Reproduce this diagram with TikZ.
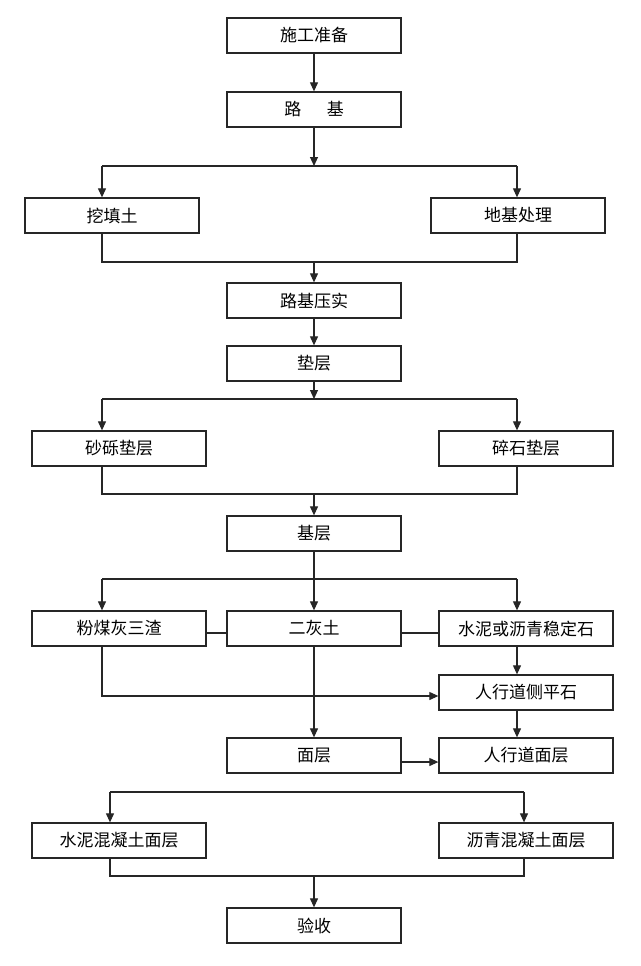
\documentclass[tikz,border=0pt]{standalone}
\usepackage{fontspec}
\newfontfamily\cjk{Noto Sans CJK SC}
\usetikzlibrary{arrows.meta}
\begin{document}
\begin{tikzpicture}[x=1pt,y=-1pt,
  box/.style={draw=black!85,line width=1.3pt,minimum width=174pt,minimum height=35pt,inner sep=0pt,font=\cjk\fontsize{17}{19}\selectfont},
  conn/.style={draw=black!85,line width=1.1pt},
  arr/.style={conn,-{Triangle[length=9pt,width=8pt]}}]
\useasboundingbox[fill=white] (0,0) rectangle (640,966);
% nodes
\node[box] (prep) at (314,35.5) {施工准备};
\node[box] (luji) at (314,109.5) {路\hspace{1.5em}基};
\node[box] (wtt) at (112,215.5) {挖填土};
\node[box] (djcl) at (518,215.5) {地基处理};
\node[box] (ljys) at (314,300.5) {路基压实};
\node[box] (dc) at (314,363.5) {垫层};
\node[box] (slfc) at (119,448.5) {砂砾垫层};
\node[box] (sszc) at (526,448.5) {碎石垫层};
\node[box] (jc) at (314,533.5) {基层};
\node[box] (fmh) at (119,628.5) {粉煤灰三渣};
\node[box] (eht) at (314,628.5) {二灰土};
\node[box] (snlq) at (526,628.5) {水泥或沥青稳定石};
\node[box] (rxd) at (526,692.5) {人行道侧平石};
\node[box] (mc) at (314,755.5) {面层};
\node[box] (rxdmc) at (526,755.5) {人行道面层};
\node[box] (snhnt) at (119,840.5) {水泥混凝土面层};
\node[box] (lqhnt) at (526,840.5) {沥青混凝土面层};
\node[box] (ys) at (314,925.5) {验收};
% coordinates
\coordinate (b1) at (314,166);
\coordinate (b1l) at (102,166);
\coordinate (b1r) at (517,166);
\coordinate (m1) at (314,262);
\coordinate (m1l) at (102,262);
\coordinate (m1r) at (517,262);
\coordinate (b2) at (314,399);
\coordinate (b2l) at (102,399);
\coordinate (b2r) at (517,399);
\coordinate (m2) at (314,494);
\coordinate (m2l) at (102,494);
\coordinate (m2r) at (517,494);
\coordinate (b3) at (314,579);
\coordinate (b3l) at (102,579);
\coordinate (b3r) at (517,579);
\coordinate (f1) at (102,696);
\coordinate (b4l) at (110,792);
\coordinate (b4r) at (524,792);
\coordinate (m4) at (314,876);
\coordinate (m4l) at (110,876);
\coordinate (m4r) at (524,876);
% connectors
\draw[arr] (prep.south) -- (luji.north);
\draw[arr] (luji.south) -- (b1);
\draw[conn] (b1l) -- (b1r);
\draw[arr] (b1l) -- (b1l |- wtt.north);
\draw[arr] (b1r) -- (b1r |- djcl.north);
\draw[conn] (m1l |- wtt.south) -- (m1l) -- (m1r) -- (m1r |- djcl.south);
\draw[arr] (m1) -- (ljys.north);
\draw[arr] (ljys.south) -- (dc.north);
\draw[arr] (dc.south) -- (b2);
\draw[conn] (b2l) -- (b2r);
\draw[arr] (b2l) -- (b2l |- slfc.north);
\draw[arr] (b2r) -- (b2r |- sszc.north);
\draw[conn] (m2l |- slfc.south) -- (m2l) -- (m2r) -- (m2r |- sszc.south);
\draw[arr] (m2) -- (jc.north);
\draw[arr] (jc.south) -- (eht.north);
\draw[conn] (b3l) -- (b3r);
\draw[arr] (b3l) -- (b3l |- fmh.north);
\draw[arr] (b3r) -- (b3r |- snlq.north);
\draw[conn] ([yshift=-4.5pt]fmh.east) -- ([yshift=-4.5pt]eht.west);
\draw[conn] ([yshift=-4.5pt]eht.east) -- ([yshift=-4.5pt]snlq.west);
\draw[arr] (f1 |- fmh.south) -- (f1) -- (f1 -| rxd.west);
\draw[arr] (eht.south) -- (mc.north);
\draw[arr] (b3r |- snlq.south) -- (b3r |- rxd.north);
\draw[arr] (b3r |- rxd.south) -- (b3r |- rxdmc.north);
\draw[arr] ([yshift=-6.5pt]mc.east) -- ([yshift=-6.5pt]rxdmc.west);
\draw[conn] (b4l) -- (b4r);
\draw[arr] (b4l) -- (b4l |- snhnt.north);
\draw[arr] (b4r) -- (b4r |- lqhnt.north);
\draw[conn] (m4l |- snhnt.south) -- (m4l) -- (m4r) -- (m4r |- lqhnt.south);
\draw[arr] (m4) -- (ys.north);
\end{tikzpicture}
\end{document}
